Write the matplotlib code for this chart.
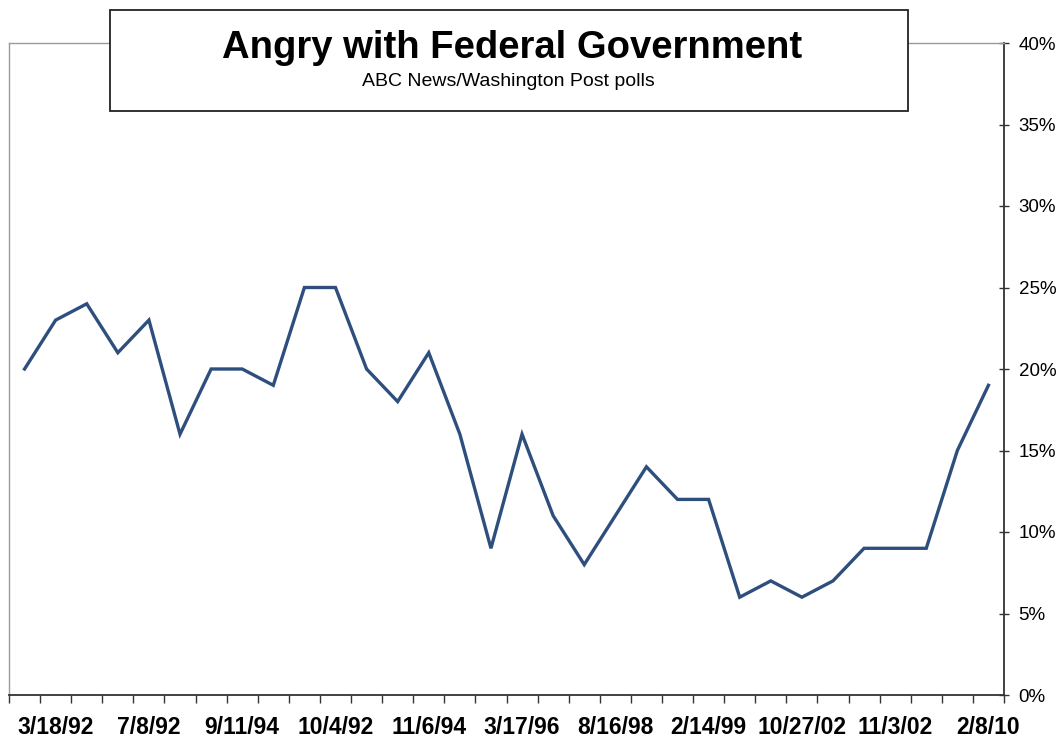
import matplotlib
matplotlib.use("Agg")
import matplotlib.pyplot as plt
from matplotlib.patches import Rectangle
from matplotlib.ticker import FixedLocator, FuncFormatter

# ---- data ----
angry_pct = [20, 23, 24, 21, 23, 16, 20, 20, 19, 25, 25, 20, 18, 21, 16, 9,
             16, 11, 8, 11, 14, 12, 12, 6, 7, 6, 7, 9, 9, 9, 15, 19]
tick_labels = ["3/18/92", "7/8/92", "9/11/94", "10/4/92", "11/6/94", "3/17/96",
               "8/16/98", "2/14/99", "10/27/02", "11/3/02", "2/8/10"]
y_ticks = [0, 5, 10, 15, 20, 25, 30, 35, 40]
title = "Angry with Federal Government"
subtitle = "ABC News/Washington Post polls"

plt.rcParams['font.family'] = ['Liberation Sans', 'DejaVu Sans']

W, H = 1063, 742
fig = plt.figure(figsize=(W / 100, H / 100), dpi=100)
left, right, top, bottom = 9, 1004, 43, 695
ax = fig.add_axes([left / W, (H - bottom) / H, (right - left) / W, (bottom - top) / H])

n = len(angry_pct)
x = list(range(n))
ax.plot(x, angry_pct, color="#2E4F7E", lw=2.4, solid_joinstyle="miter", clip_on=False)

ax.set_xlim(-0.5, n - 0.5)
ax.set_ylim(0, 40)

# x axis: tick marks at category boundaries, labels every 3rd category
ax.xaxis.set_major_locator(FixedLocator([i - 0.5 for i in range(n + 1)]))
ax.xaxis.set_major_formatter(FuncFormatter(lambda v, p: ""))
label_pos = list(range(1, n, 3))[:len(tick_labels)]
ax.xaxis.set_minor_locator(FixedLocator(label_pos))
ax.set_xticks(label_pos, tick_labels, minor=True)
ax.tick_params(axis="x", which="major", direction="out", length=6, width=1, color="#333333")
ax.tick_params(axis="x", which="minor", length=0, pad=15, labelsize=16.5)
for t in ax.get_xticklabels(minor=True):
    t.set_fontweight("bold")

# y axis on right
ax.yaxis.tick_right()
ax.set_yticks(y_ticks, [f"{v}%" for v in y_ticks])
ax.tick_params(axis="y", direction="inout", length=7, width=1, color="#333333",
               pad=7, labelsize=13.5)

for s in ["left", "top"]:
    ax.spines[s].set_color("#9a9a9a")
    ax.spines[s].set_linewidth(1.0)
for s in ["right", "bottom"]:
    ax.spines[s].set_color("#333333")
    ax.spines[s].set_linewidth(1.3)

# title box
bx0, bx1, by0, by1 = 110, 908, 10, 111
rect = Rectangle((bx0 / W, (H - by1) / H), (bx1 - bx0) / W, (by1 - by0) / H,
                 transform=fig.transFigure, facecolor="white", edgecolor="#222222",
                 lw=1.3, zorder=5)
fig.add_artist(rect)
fig.text(512 / W, (H - 48) / H, title, ha="center", va="center", fontsize=27.5,
         fontweight="bold", zorder=6)
fig.text(508 / W, (H - 82) / H, subtitle, ha="center", va="center", fontsize=14,
         zorder=6)

fig.savefig("out.png", dpi=100, facecolor="white")
